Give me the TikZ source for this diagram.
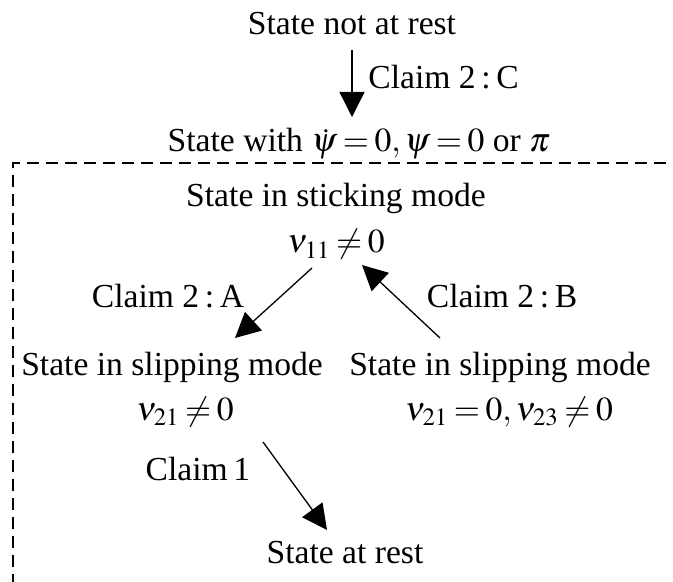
\documentclass[tikz,border=0pt]{standalone}
\usepackage{mathptmx}
\usepackage{fontspec}
\setmainfont{Liberation Serif}
\usetikzlibrary{arrows.meta,positioning,calc}
\newcommand{\lblfont}{\fontsize{16.8}{20}\selectfont\thickmuskip=3mu\relax}
\tikzset{
 lbl/.style={inner sep=0pt,anchor=base,font=\lblfont},
 arr/.style={-{Triangle[length=12.5pt,width=12.5pt]},line width=0.65pt},
 frame/.style={line width=0.7pt,dash pattern=on 6pt off 3.5pt}
}
\begin{document}
\begin{tikzpicture}[x=0.5pt,y=-0.5pt]
\useasboundingbox (0,0) rectangle (673,582);
\clip (0,0) rectangle (673,582);
\node[lbl] (moving) at (352,35) {State not at rest};
\node[lbl] (psi) at (359,152) {State with $\dot{\psi}=0,\psi=0$ or $\pi$};
\node[lbl] (stick) at (336,207) {State in sticking mode};
\node[lbl] (v11) at (336,253) {$\nu_{11}\neq 0$};
\node[lbl] (slipL) at (172,375) {State in slipping mode};
\node[lbl] (v21L) at (185,420) {$\nu_{21}\neq 0$};
\node[lbl] (slipR) at (500,375) {State in slipping mode};
\node[lbl] (v21R) at (509,420) {$\nu_{21}=0,\nu_{23}\neq 0$};
\node[lbl] (rest) at (345,563) {State at rest};
% claim labels
\node[lbl,anchor=base west] (cC) at (368,89) {Claim 2\,:\,C};
\node[lbl] (cA) at (168,307) {Claim 2\,:\,A};
\node[lbl] (cB) at (502,307) {Claim 2\,:\,B};
\node[lbl] (c1) at (198,480) {Claim\,1};
% transitions
\draw[arr] ([shift={(0,15)}]moving.base) -- ([shift={(-7,-35)}]psi.base);
\draw[arr] ([shift={(-24,15)}]v11.base) -- ([shift={(63,-37)}]slipL.base);
\draw[arr] ([shift={(-60,-37)}]slipR.base) -- ([shift={(26,12)}]v11.base);
\draw[arr] ([shift={(78,22)}]v21L.base) -- ([shift={(-18,-33)}]rest.base);
% region
\draw[frame] (13,700) -- (13,163) -- (700,163);
\end{tikzpicture}
\end{document}
